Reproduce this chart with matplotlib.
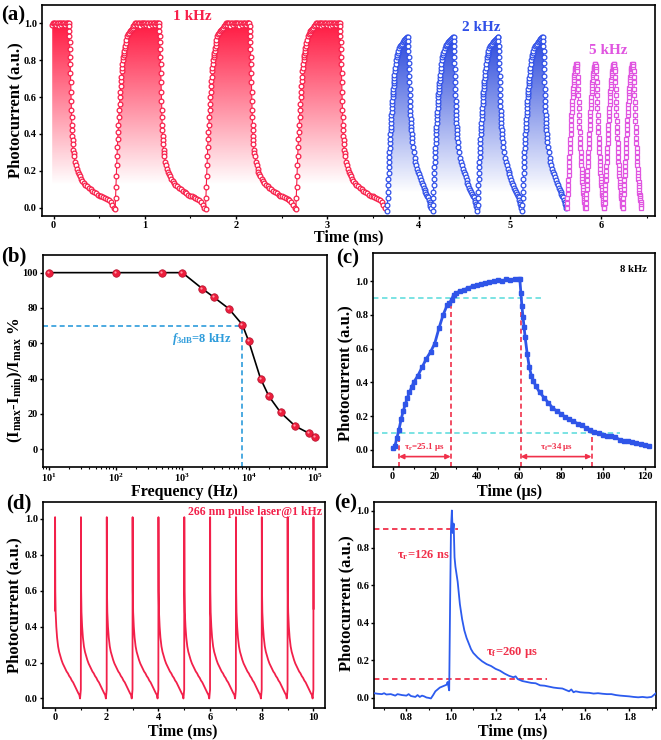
import numpy as np
import matplotlib
matplotlib.use('Agg')
import matplotlib.pyplot as plt
from matplotlib.patches import Polygon
from matplotlib.colors import to_rgb
from matplotlib.ticker import MultipleLocator, LogLocator, NullFormatter, FormatStrFormatter

# ---------------- DATA ----------------
# (a) one period of each waveform: (phase in ms, photocurrent)
k1_wave = [(0.000, -0.01), (0.004, 0.05), (0.008, 0.11), (0.012, 0.17), (0.016, 0.23), (0.020, 0.28),
           (0.024, 0.33), (0.028, 0.37), (0.032, 0.41), (0.036, 0.45), (0.040, 0.49), (0.044, 0.53),
           (0.048, 0.56), (0.052, 0.60), (0.056, 0.63), (0.060, 0.66), (0.064, 0.69), (0.068, 0.71),
           (0.072, 0.74), (0.076, 0.76), (0.080, 0.78), (0.084, 0.80), (0.088, 0.815), (0.092, 0.83),
           (0.096, 0.84), (0.100, 0.85), (0.105, 0.865), (0.110, 0.88), (0.115, 0.895), (0.120, 0.91),
           (0.130, 0.93), (0.140, 0.94), (0.150, 0.95), (0.160, 0.96), (0.170, 0.965), (0.180, 0.97),
           (0.190, 0.975), (0.200, 0.985), (0.210, 0.99), (0.220, 1.0),
           (0.23, 1.0), (0.24, 0.99), (0.25, 1.0), (0.26, 1.0), (0.27, 0.985), (0.28, 1.0), (0.29, 1.0),
           (0.30, 0.99), (0.31, 1.0), (0.32, 1.0), (0.33, 1.0), (0.34, 0.99), (0.35, 1.0), (0.36, 1.0),
           (0.37, 0.985), (0.38, 1.0), (0.39, 1.0), (0.40, 0.99), (0.41, 1.0), (0.42, 1.0), (0.43, 1.0),
           (0.44, 0.99), (0.45, 1.0), (0.46, 1.0), (0.47, 1.0), (0.480, 1.0),
           (0.4825, 0.985), (0.485, 0.96), (0.4875, 0.93), (0.490, 0.90), (0.4925, 0.86), (0.495, 0.82),
           (0.4975, 0.78), (0.500, 0.73), (0.5025, 0.68), (0.505, 0.63), (0.5075, 0.58), (0.510, 0.53),
           (0.5125, 0.49), (0.515, 0.45), (0.5175, 0.42), (0.520, 0.39), (0.5225, 0.365), (0.525, 0.345),
           (0.530, 0.315), (0.535, 0.295), (0.540, 0.28), (0.550, 0.25), (0.560, 0.23), (0.570, 0.21),
           (0.580, 0.195), (0.590, 0.18), (0.600, 0.17), (0.615, 0.155), (0.630, 0.145), (0.645, 0.135),
           (0.660, 0.125), (0.680, 0.115), (0.700, 0.105), (0.720, 0.10), (0.740, 0.09), (0.760, 0.085),
           (0.780, 0.078), (0.800, 0.07), (0.820, 0.065), (0.840, 0.06), (0.860, 0.055), (0.880, 0.05),
           (0.900, 0.045), (0.920, 0.04), (0.940, 0.03), (0.960, 0.015), (0.975, 0.0)]
k1_starts = [-0.315, 0.675, 1.665, 2.655]
k1_window = (-0.02, 3.63)

k2_wave = [(0.0000, -0.02), (0.0025, 0.015), (0.0050, 0.05), (0.0075, 0.085), (0.0100, 0.12),
           (0.0125, 0.155), (0.0150, 0.19), (0.0175, 0.22), (0.0200, 0.25), (0.0225, 0.275),
           (0.0250, 0.30), (0.0275, 0.325), (0.0300, 0.35), (0.0325, 0.375), (0.0350, 0.40),
           (0.0375, 0.42), (0.0400, 0.44), (0.0425, 0.46), (0.0450, 0.48), (0.0475, 0.50),
           (0.0500, 0.52), (0.0525, 0.54), (0.0550, 0.56), (0.0575, 0.58), (0.0600, 0.60),
           (0.0625, 0.615), (0.0650, 0.63), (0.0675, 0.645), (0.0700, 0.66), (0.0725, 0.675),
           (0.0750, 0.69), (0.0775, 0.705), (0.0800, 0.72), (0.0850, 0.74), (0.0900, 0.76),
           (0.0950, 0.78), (0.1000, 0.80), (0.105, 0.815), (0.110, 0.83), (0.115, 0.84), (0.120, 0.85),
           (0.130, 0.865), (0.140, 0.875), (0.150, 0.885), (0.160, 0.89), (0.170, 0.90), (0.180, 0.905),
           (0.190, 0.91), (0.200, 0.915), (0.210, 0.92), (0.220, 0.925), (0.228, 0.925), (0.230, 0.905),
           (0.232, 0.88), (0.234, 0.85), (0.236, 0.82), (0.238, 0.785), (0.240, 0.75), (0.242, 0.715),
           (0.244, 0.68), (0.246, 0.645), (0.248, 0.61), (0.250, 0.58), (0.252, 0.55), (0.254, 0.525),
           (0.256, 0.50), (0.258, 0.48), (0.260, 0.46), (0.2625, 0.44), (0.265, 0.42), (0.2675, 0.40),
           (0.270, 0.38), (0.275, 0.355), (0.280, 0.33), (0.290, 0.30), (0.300, 0.27), (0.310, 0.25),
           (0.320, 0.23), (0.330, 0.21), (0.340, 0.195), (0.350, 0.18), (0.360, 0.165), (0.370, 0.15),
           (0.380, 0.135), (0.390, 0.12), (0.400, 0.105), (0.410, 0.095), (0.420, 0.085), (0.430, 0.075),
           (0.440, 0.065), (0.450, 0.055), (0.460, 0.04), (0.465, 0.03), (0.470, 0.02), (0.475, 0.01),
           (0.480, 0.0)]
k2_starts = [3.655, 4.155, 4.645, 5.135]

k5_wave = [(0.0000, 0.00), (0.0025, 0.025), (0.0050, 0.05), (0.0075, 0.075), (0.0100, 0.10),
           (0.0125, 0.125), (0.0150, 0.15), (0.0175, 0.175), (0.0200, 0.20), (0.0225, 0.225),
           (0.0250, 0.25), (0.0275, 0.275), (0.0300, 0.30), (0.0325, 0.325), (0.0350, 0.35),
           (0.0375, 0.375), (0.0400, 0.40), (0.0425, 0.425), (0.0450, 0.45), (0.0475, 0.475),
           (0.0500, 0.50), (0.0525, 0.52), (0.0550, 0.54), (0.0575, 0.56), (0.0600, 0.58),
           (0.0625, 0.60), (0.0650, 0.62), (0.0675, 0.635), (0.0700, 0.65), (0.0725, 0.665),
           (0.0750, 0.68), (0.0775, 0.695), (0.0800, 0.71), (0.0825, 0.72), (0.0850, 0.73),
           (0.0875, 0.74), (0.0900, 0.75), (0.0925, 0.758), (0.0950, 0.765), (0.0975, 0.77),
           (0.1000, 0.775), (0.1025, 0.778), (0.1050, 0.78), (0.1075, 0.778), (0.1100, 0.77),
           (0.1125, 0.755), (0.1150, 0.74), (0.1175, 0.71), (0.1200, 0.68), (0.1225, 0.645),
           (0.1250, 0.61), (0.1275, 0.575), (0.1300, 0.54), (0.1325, 0.505), (0.1350, 0.47),
           (0.1375, 0.44), (0.1400, 0.41), (0.1425, 0.38), (0.1450, 0.35), (0.1475, 0.325),
           (0.1500, 0.30), (0.1525, 0.275), (0.1550, 0.25), (0.1575, 0.23), (0.1600, 0.21),
           (0.1625, 0.19), (0.1650, 0.17), (0.1675, 0.155), (0.1700, 0.14), (0.1725, 0.125),
           (0.1750, 0.11), (0.1775, 0.095), (0.1800, 0.08), (0.1825, 0.07), (0.1850, 0.06),
           (0.1875, 0.05), (0.1900, 0.04), (0.1925, 0.03), (0.1950, 0.02), (0.1975, 0.01), (0.2000, 0.0)]
k5_starts = [5.625, 5.83, 6.035, 6.24]

# (b) frequency response
b_freq = [10, 100, 500, 1000, 2000, 3000, 5000, 8000, 10000, 15000, 20000, 30000, 50000, 80000, 100000]
b_ratio = [100, 100, 100, 100, 90.9, 86, 79.6, 70.5, 61, 40, 30, 20.8, 13, 9, 6.8]

# (c) 8 kHz single pulse (time in us)
c_time = [0, 1, 2, 3, 4, 5, 6, 7, 8, 9, 10, 12, 14, 16, 18, 20, 22, 24, 26, 27, 28, 29, 30, 32, 34, 36,
          38, 40, 42, 44, 46, 48, 50, 52, 54, 56, 58, 60, 60.5, 61, 61.5, 62, 62.5, 63, 64, 65, 66, 67,
          68, 70, 72, 74, 76, 78, 80, 82, 84, 86, 88, 90, 92, 94, 96, 98, 100, 102, 104, 106, 108, 110,
          112, 114, 116, 118, 120, 122]
c_curr = [0.01, 0.02, 0.07, 0.12, 0.18, 0.23, 0.27, 0.31, 0.34, 0.37, 0.40, 0.44, 0.49, 0.54, 0.58, 0.63,
          0.72, 0.80, 0.86, 0.87, 0.89, 0.92, 0.93, 0.94, 0.95, 0.96, 0.97, 0.975, 0.985, 0.99, 0.995, 1.0,
          1.005, 1.0, 1.01, 1.005, 1.01, 1.015, 1.01, 0.93, 0.85, 0.79, 0.73, 0.67, 0.57, 0.49, 0.44, 0.41,
          0.38, 0.34, 0.31, 0.28, 0.25, 0.23, 0.215, 0.195, 0.18, 0.17, 0.155, 0.145, 0.13, 0.12, 0.105,
          0.10, 0.09, 0.085, 0.08, 0.075, 0.06, 0.055, 0.05, 0.045, 0.04, 0.035, 0.03, 0.025]
c_marks_r = [3.0, 27.6]
c_marks_f = [60.9, 94.6]

# (d) 266 nm pulse laser @ 1 kHz: pulse times and one pulse shape (phase in ms)
d_pulses = [0.0, 1.0, 2.0, 3.0, 4.0, 5.0, 6.0, 7.0, 8.0, 9.0]
d_wave = [(0.000, 0.05), (0.004, 1.01), (0.012, 0.60), (0.025, 0.48), (0.05, 0.40), (0.08, 0.34),
          (0.12, 0.29), (0.16, 0.26), (0.20, 0.24), (0.25, 0.215), (0.30, 0.195), (0.35, 0.18),
          (0.40, 0.165), (0.45, 0.15), (0.50, 0.14), (0.55, 0.125), (0.60, 0.115), (0.65, 0.10),
          (0.70, 0.09), (0.75, 0.075), (0.80, 0.06), (0.85, 0.045), (0.90, 0.03), (0.94, 0.02),
          (0.97, 0.0), (0.99, 0.03)]
d_start = (0.0, 0.49)
d_end = [(10.0, 0.05), (10.004, 1.01), (10.008, 0.50)]

# (e) single pulse zoom
e_time = [0.655, 0.67, 0.69, 0.70, 0.71, 0.73, 0.75, 0.76, 0.78, 0.80, 0.81, 0.82, 0.84, 0.85, 0.86,
          0.87, 0.88, 0.89, 0.90, 0.91, 0.92, 0.93, 0.94, 0.95, 0.96, 0.97, 0.98, 0.985, 0.992, 0.996,
          1.000, 1.004, 1.008, 1.012, 1.016, 1.02, 1.03, 1.04, 1.05, 1.06, 1.07, 1.08, 1.09, 1.10, 1.12,
          1.14, 1.16, 1.18, 1.20, 1.22, 1.24, 1.26, 1.28, 1.29, 1.30, 1.32, 1.34, 1.36, 1.38, 1.40, 1.42,
          1.44, 1.46, 1.48, 1.50, 1.52, 1.53, 1.54, 1.55, 1.56, 1.58, 1.60, 1.62, 1.64, 1.66, 1.68, 1.70,
          1.72, 1.74, 1.76, 1.78, 1.80, 1.82, 1.84, 1.86, 1.88, 1.90, 1.91, 1.92]
e_curr = [0.025, 0.022, 0.02, 0.025, 0.018, 0.02, 0.012, 0.02, 0.015, 0.012, 0.02, 0.01, 0.005, 0.015,
          0.005, 0.012, 0.008, 0.002, 0.0, -0.003, 0.015, 0.035, 0.045, 0.055, 0.06, 0.065, 0.07, 0.085,
          0.04, 0.5, 0.9, 1.0, 0.88, 0.93, 0.75, 0.70, 0.62, 0.50, 0.42, 0.36, 0.32, 0.29, 0.26, 0.24,
          0.215, 0.195, 0.18, 0.17, 0.155, 0.145, 0.13, 0.118, 0.11, 0.115, 0.10, 0.09, 0.085, 0.08, 0.078,
          0.067, 0.065, 0.06, 0.055, 0.052, 0.05, 0.04, 0.035, 0.045, 0.03, 0.035, 0.03, 0.028, 0.027, 0.023,
          0.025, 0.022, 0.02, 0.02, 0.015, 0.012, 0.01, 0.008, 0.005, 0.003, 0.005, 0.002, 0.005, 0.015, 0.025]

# ---------------- STYLE ----------------
plt.rcParams.update({
    'font.family': ['Liberation Serif', 'DejaVu Serif'],
    'font.weight': 'bold',
    'axes.labelweight': 'bold',
    'mathtext.fontset': 'custom',
    'mathtext.rm': 'Liberation Serif:bold',
    'mathtext.it': 'Liberation Serif:italic:bold',
    'mathtext.bf': 'Liberation Serif:bold',
    'axes.linewidth': 1.2,
})

RED = '#F7204A'
BLUE = '#3050E8'
MAG = '#E055E0'
CYAN = '#6FE0E0'
DRED = '#F0304A'
LBLUE = '#2E9CDB'

fig = plt.figure(figsize=(6.61, 7.4), dpi=100)
axA = fig.add_axes([0.0631, 0.7081, 0.9278, 0.2851])
axB = fig.add_axes([0.0646, 0.3693, 0.4301, 0.2861])
axC = fig.add_axes([0.5648, 0.3693, 0.4261, 0.2884])
axD = fig.add_axes([0.0646, 0.0430, 0.4271, 0.2790])
axE = fig.add_axes([0.5663, 0.0430, 0.4261, 0.2790])


def style(ax):
    ax.tick_params(which='major', direction='out', length=2.5, width=1.0, pad=1.0, labelsize=7.5)
    ax.tick_params(which='minor', direction='out', length=1.6, width=0.8)


def build(wave, starts, window=None):
    ph = np.array([p for p, _ in wave])
    va = np.array([v for _, v in wave])
    t = np.concatenate([s + ph for s in starts])
    y = np.concatenate([va for _ in starts])
    if window is not None:
        m = (t >= window[0]) & (t <= window[1])
        t, y = t[m], y[m]
    return t, y


def grad_fill(ax, x, y, color, ylo, yhi):
    verts = np.column_stack([np.r_[x[0], x, x[-1]], np.r_[0, y, 0]])
    poly = Polygon(verts, closed=True, fc='none', ec='none')
    ax.add_patch(poly)
    img = np.ones((256, 2, 4))
    img[..., :3] = to_rgb(color)
    img[..., 3] = np.linspace(0, 1, 256)[:, None]
    im = ax.imshow(img, extent=[x.min(), x.max(), ylo, yhi], origin='lower',
                   aspect='auto', zorder=1, interpolation='bilinear')
    im.set_clip_path(poly)


# ---------------- (a) ----------------
t1, y1 = build(k1_wave, k1_starts, k1_window)
t2, y2 = build(k2_wave, k2_starts)
t5, y5 = build(k5_wave, k5_starts)
grad_fill(axA, t1, y1, '#FF1840', 0.12, 1.0)
grad_fill(axA, t2, y2, '#2A48DC', 0.08, 0.93)
for t, y, c, mk in [(t1, y1, RED, 'o'), (t2, y2, BLUE, 'o'), (t5, y5, MAG, 's')]:
    axA.plot(t, y, '-', color=c, lw=0.8, zorder=2)
    axA.plot(t, y, mk, ms=3.4 if mk == 'o' else 3.0, mfc='white', mec=c, mew=0.9, zorder=3)
axA.set_xlim(-0.13, 6.59)
axA.set_ylim(-0.046, 1.10)
axA.xaxis.set_major_locator(MultipleLocator(1))
axA.xaxis.set_minor_locator(MultipleLocator(0.5))
axA.set_yticks([0.0, 0.2, 0.4, 0.6, 0.8, 1.0])
axA.yaxis.set_major_formatter(FormatStrFormatter('%.1f'))
style(axA)
axA.text(1.525, 1.04, '1 kHz', color=RED, fontsize=11, ha='center', va='center')
axA.text(4.685, 0.977, '2 kHz', color=BLUE, fontsize=11, ha='center', va='center')
axA.text(6.08, 0.854, '5 kHz', color=MAG, fontsize=11, ha='center', va='center')
axA.set_xlabel('Time (ms)', fontsize=11.5, va='center')
axA.xaxis.set_label_coords(0.5, -0.1)
axA.set_ylabel('Photocurrent (a.u.)', fontsize=12, va='center')
axA.yaxis.set_label_coords(-0.043, 0.5)

# ---------------- (b) ----------------
axB.set_xscale('log')
axB.plot(b_freq, b_ratio, '-', color='black', lw=1.2, zorder=2)
axB.plot(b_freq, b_ratio, 'o', ms=5.4, mfc='#EC1E3C', mec='#B3122E', mew=0.5, zorder=3)
axB.plot(b_freq, b_ratio, 'o', ms=1.6, mfc='#FF9AA8', mec='none', zorder=4,
         transform=axB.transData + matplotlib.transforms.ScaledTranslation(-0.01, 0.01, fig.dpi_scale_trans))
axB.set_xlim(7.95, 1.5e5)
axB.set_ylim(-10, 110)
axB.plot([7.95, 8000], [70, 70], '--', color=LBLUE, lw=1.2, dashes=(3, 2), zorder=1)
axB.plot([8000, 8000], [-10, 70], '--', color=LBLUE, lw=1.2, dashes=(3, 2), zorder=1)
axB.text(690, 62.6, r'$f_{\mathregular{3dB}}$=8 kHz', color=LBLUE, fontsize=9, ha='left', va='center')
axB.set_yticks([0, 20, 40, 60, 80, 100])
axB.xaxis.set_major_locator(LogLocator(base=10, numticks=10))
axB.xaxis.set_minor_locator(LogLocator(base=10, subs=np.arange(2, 10), numticks=20))
axB.xaxis.set_minor_formatter(NullFormatter())
style(axB)
axB.set_xlabel('Frequency (Hz)', fontsize=11.5, va='center')
axB.xaxis.set_label_coords(0.497, -0.12)
axB.set_ylabel(r'(I$_\mathregular{max}$-I$_\mathregular{min}$)/I$_\mathregular{max}$ %', fontsize=12, va='center')
axB.yaxis.set_label_coords(-0.097, 0.41)

# ---------------- (c) ----------------
axC.plot(c_time, c_curr, '-', color='#2F55E8', lw=2.0, zorder=3)
axC.plot(c_time, c_curr, 's', ms=2.2, color='#2F55E8', zorder=3)
axC.set_xlim(-9.2, 124.8)
axC.set_ylim(-0.1, 1.165)
axC.plot([-9.2, 70.8], [0.9, 0.9], '--', color=CYAN, lw=1.3, dashes=(3, 2), zorder=1)
axC.plot([-9.2, 108], [0.1, 0.1], '--', color=CYAN, lw=1.3, dashes=(3, 2), zorder=1)
axC.plot([c_marks_r[0]] * 2, [-0.1, 0.1], '--', color=DRED, lw=1.2, dashes=(3, 2), zorder=2)
axC.plot([c_marks_r[1]] * 2, [-0.1, 0.9], '--', color=DRED, lw=1.2, dashes=(3, 2), zorder=2)
axC.plot([c_marks_f[0]] * 2, [-0.1, 0.9], '--', color=DRED, lw=1.2, dashes=(3, 2), zorder=2)
axC.plot([c_marks_f[1]] * 2, [-0.1, 0.1], '--', color=DRED, lw=1.2, dashes=(3, 2), zorder=2)
for a, b in [c_marks_r, c_marks_f]:
    axC.annotate('', xy=(a, -0.04), xytext=(b, -0.04),
                 arrowprops=dict(arrowstyle='<|-|>', color=DRED, lw=1.2, mutation_scale=7,
                                 shrinkA=0, shrinkB=0))
axC.text(15.3, 0.018, r'τ$_\mathregular{r}$=25.1 μs', color=DRED, fontsize=6.5, ha='center', va='center')
axC.text(77.8, 0.018, r'τ$_\mathregular{f}$=34 μs', color=DRED, fontsize=6.5, ha='center', va='center')
axC.text(121, 1.07, '8 kHz', color='black', fontsize=7.7, ha='right', va='center')
axC.set_yticks([0.0, 0.2, 0.4, 0.6, 0.8, 1.0])
axC.yaxis.set_major_formatter(FormatStrFormatter('%.1f'))
axC.xaxis.set_major_locator(MultipleLocator(20))
axC.xaxis.set_minor_locator(MultipleLocator(10))
style(axC)
axC.set_xlabel('Time (μs)', fontsize=11.5, va='center')
axC.xaxis.set_label_coords(0.485, -0.118)
axC.set_ylabel('Photocurrent (a.u.)', fontsize=12, va='center')
axC.yaxis.set_label_coords(-0.1, 0.44)

# ---------------- (d) ----------------
d_t, d_y = build(d_wave, d_pulses)
d_t = np.r_[d_start[0], d_t[1:], [p for p, _ in d_end]]
d_y = np.r_[d_start[1], d_y[1:], [v for _, v in d_end]]
axD.plot(d_t, d_y, '-', color='#F2204A', lw=1.3)
axD.set_xlim(-0.476, 10.45)
axD.set_ylim(-0.054, 1.096)
axD.xaxis.set_major_locator(MultipleLocator(2))
axD.xaxis.set_minor_locator(MultipleLocator(1))
axD.set_yticks([0.0, 0.2, 0.4, 0.6, 0.8, 1.0])
axD.yaxis.set_major_formatter(FormatStrFormatter('%.1f'))
style(axD)
axD.text(10.34, 1.04, '266 nm pulse laser@1 kHz', color='#F2204A', fontsize=8.5, ha='right', va='center')
axD.set_xlabel('Time (ms)', fontsize=11.5, va='center')
axD.xaxis.set_label_coords(0.497, -0.112)
axD.set_ylabel('Photocurrent (a.u.)', fontsize=12, va='center')
axD.yaxis.set_label_coords(-0.102, 0.5)

# ---------------- (e) ----------------
axE.plot(e_time, e_curr, '-', color='#2C5BEE', lw=1.3, zorder=3)
axE.set_xlim(0.656, 1.92)
axE.set_ylim(-0.055, 1.047)
axE.plot([0.656, 1.03], [0.9, 0.9], '--', color=DRED, lw=1.3, dashes=(3, 2), zorder=2)
axE.plot([0.656, 1.43], [0.1, 0.1], '--', color=DRED, lw=1.3, dashes=(3, 2), zorder=2)
axE.text(0.756, 0.76, r'τ$_\mathregular{r}$=126 ns', color=DRED, fontsize=9, ha='left', va='center')
axE.text(1.156, 0.24, r'τ$_\mathregular{f}$=260 μs', color=DRED, fontsize=9, ha='left', va='center')
axE.xaxis.set_major_locator(MultipleLocator(0.2))
axE.xaxis.set_minor_locator(MultipleLocator(0.1))
axE.xaxis.set_major_formatter(FormatStrFormatter('%.1f'))
axE.set_yticks([0.0, 0.2, 0.4, 0.6, 0.8, 1.0])
axE.yaxis.set_major_formatter(FormatStrFormatter('%.1f'))
style(axE)
axE.set_xlabel('Time (ms)', fontsize=11.5, va='center')
axE.xaxis.set_label_coords(0.49, -0.112)
axE.set_ylabel('Photocurrent (a.u.)', fontsize=12, va='center')
axE.yaxis.set_label_coords(-0.1, 0.51)

# panel letters
for lab, (px, py) in zip(['(a)', '(b)', '(c)', '(d)', '(e)'],
                         [(13, 15), (14, 256), (348, 258), (19, 503), (346, 503)]):
    fig.text(px / 661, 1 - py / 740, lab, fontsize=15, ha='center', va='center')

fig.savefig('out.png', dpi=100)
